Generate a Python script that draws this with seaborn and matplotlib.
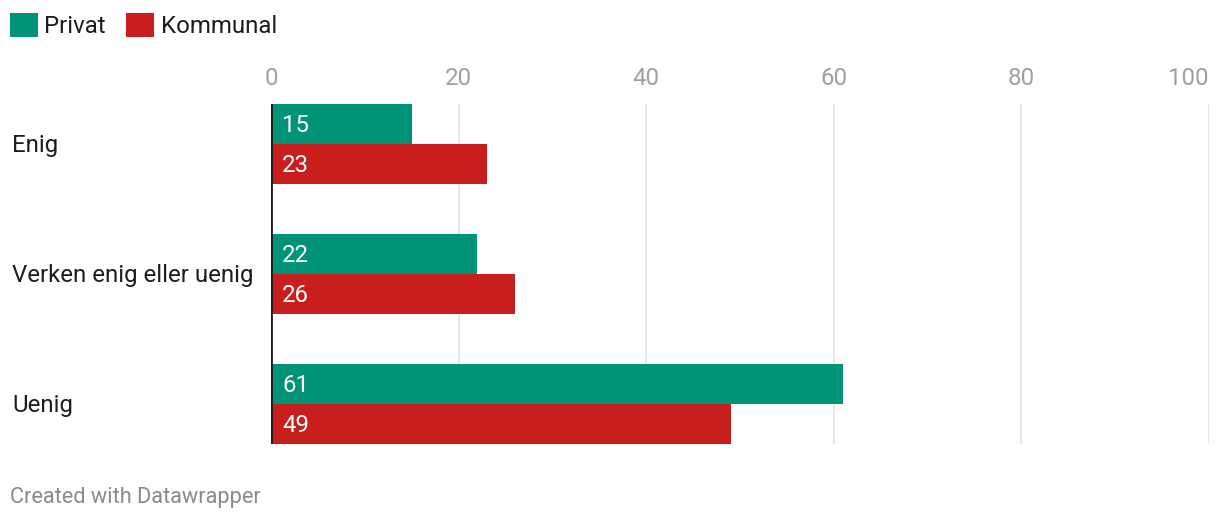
import matplotlib
matplotlib.use("Agg")
import matplotlib.pyplot as plt
import matplotlib.transforms as mtransforms
import seaborn as sns
import pandas as pd

categories = ["Enig", "Verken enig eller uenig", "Uenig"]
series = ["Privat", "Kommunal"]
privat = [15, 22, 61]
kommunal = [23, 26, 49]
xticks = [0, 20, 40, 60, 80, 100]
colors = {"Privat": "#009377", "Kommunal": "#c81e1e"}

df = pd.DataFrame({
    "kategori": categories * 2,
    "serie": ["Privat"] * 3 + ["Kommunal"] * 3,
    "verdi": privat + kommunal,
})

sns.set_theme(style="white")
plt.rcParams["font.family"] = ["Roboto", "DejaVu Sans"]

FS = 17.3
W, H = 1220, 522
fig = plt.figure(figsize=(W / 100, H / 100), dpi=100)
ax = fig.add_axes([271 / W, 1 - 443.5 / H, (1209 - 271) / W, (443.5 - 104) / H])

sns.barplot(data=df, y="kategori", x="verdi", hue="serie", order=categories,
            hue_order=series, palette=colors, orient="h", width=80 / 130,
            ax=ax, saturation=1, linewidth=0, legend=True)

ax.set_xlim(0, 100)
ax.set_ylim(2 + 40 / 130, -40 / 130)
ax.set_xlabel("")
ax.set_ylabel("")
for s in ax.spines.values():
    s.set_visible(False)
ax.axvline(0, color="#1a1a1a", lw=2, zorder=5)
ax.set_xticks(xticks)
ax.xaxis.tick_top()
ax.tick_params(axis="x", length=0, pad=10, labelsize=FS, labelcolor="#a0a0a0")
ax.set_xticklabels([str(t) for t in xticks])
labs = ax.get_xticklabels()
labs[-1].set_ha("right")
for t in xticks[1:]:
    ax.axvline(t, color="#e2e2e2", lw=1.2, zorder=0)
ax.set_axisbelow(True)
ax.grid(False)

ax.set_yticks(range(len(categories)))
ax.set_yticklabels([])
ax.tick_params(axis="y", length=0)
down = mtransforms.ScaledTranslation(0, -2 / 100, fig.dpi_scale_trans)
trans = mtransforms.blended_transform_factory(fig.transFigure, ax.transData) + down
for i, c in enumerate(categories):
    ax.text(12 / W, i, c, transform=trans, ha="left", va="center",
            fontsize=FS, color="#1d1d1d")

offset = mtransforms.ScaledTranslation(11 / 100, -2 / 100, fig.dpi_scale_trans)
for cont in ax.containers:
    for patch, v in zip(cont.patches, cont.datavalues):
        ax.text(0, patch.get_y() + patch.get_height() / 2, f"{v:.0f}",
                transform=ax.transData + offset, ha="left", va="center",
                color="white", fontsize=FS, zorder=6)

handles, lbls = ax.get_legend_handles_labels()
ax.legend_.remove()
fig.legend(handles, lbls, loc="upper left", bbox_to_anchor=(0 / W, 1 - 3 / H),
           ncol=2, frameon=False, fontsize=FS, handlelength=1.17, handleheight=1.2,
           handletextpad=0.27, columnspacing=0.85, borderaxespad=0, labelcolor="#1d1d1d")

fig.text(10 / W, 1 - 498 / H, "Created with Datawrapper", ha="left", va="center",
         fontsize=15.7, color="#8a8a8a")

fig.savefig("out.png", dpi=100, facecolor="white")
